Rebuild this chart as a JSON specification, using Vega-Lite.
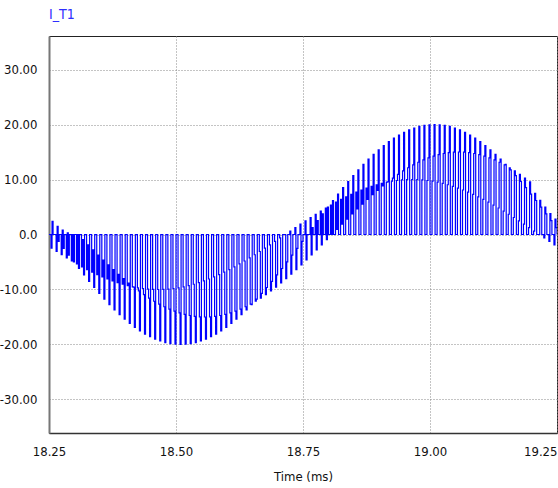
{
  "$schema": "https://vega.github.io/schema/vega-lite/v6.json",
  "width": 508,
  "height": 397,
  "autosize": {"type": "none"},
  "padding": {"left": 49, "top": 36, "right": 1, "bottom": 55},
  "background": "white",
  "title": {"text": "I_T1", "anchor": "start", "frame": "group", "color": "#2e2eff", "font": "Liberation Sans Narrow, DejaVu Sans Condensed, sans-serif", "fontSize": 14, "fontWeight": "normal", "offset": 14},
  "config": {
    "view": {"stroke": "#222", "strokeWidth": 1},
    "axis": {"labelFont": "Liberation Sans Narrow, DejaVu Sans Condensed, sans-serif", "titleFont": "Liberation Sans Narrow, DejaVu Sans Condensed, sans-serif", "labelFontSize": 13, "titleFontSize": 13, "titleFontWeight": "normal", "labelColor": "#111", "titleColor": "#111", "ticks": false, "tickSize": 0, "gridColor": "#888", "gridDash": [1, 2], "gridWidth": 1}
  },
  "data": {
    "values": "t,i\n18.250,0\n18.254,-2.49\n18.256,2.4\n18.258,0\n18.260,0\n18.264,-3.09\n18.266,1.5\n18.268,-1.26\n18.270,0\n18.274,-3.68\n18.276,0.8\n18.278,-2.51\n18.280,0\n18.284,-4.26\n18.286,0.3\n18.288,-3.75\n18.290,0\n18.294,-4.82\n18.296,0\n18.298,-4.97\n18.300,0\n18.304,-5.36\n18.306,0\n18.308,-6.18\n18.310,0\n18.314,-5.88\n18.316,-0.94\n18.318,-7.36\n18.320,0\n18.324,-6.37\n18.326,-1.88\n18.328,-8.52\n18.330,0\n18.334,-6.85\n18.336,-2.81\n18.338,-9.64\n18.340,0\n18.344,-7.29\n18.346,-3.73\n18.348,-10.72\n18.350,0\n18.354,-7.71\n18.356,-4.64\n18.358,-11.76\n18.360,0\n18.364,-8.09\n18.366,-5.52\n18.368,-12.75\n18.370,0\n18.374,-8.44\n18.376,-6.39\n18.378,-13.69\n18.380,0\n18.384,-8.76\n18.386,-7.23\n18.388,-14.58\n18.390,0\n18.394,-9.05\n18.396,-8.04\n18.398,-15.41\n18.400,0\n18.404,-9.30\n18.406,-8.82\n18.408,-16.18\n18.410,0\n18.414,-9.51\n18.416,-9.56\n18.418,-16.89\n18.420,0\n18.424,-9.69\n18.426,-10.27\n18.428,-17.53\n18.430,0\n18.434,-9.82\n18.436,-10.94\n18.438,-18.10\n18.440,0\n18.444,-9.92\n18.446,-11.56\n18.448,-18.60\n18.450,0\n18.454,-9.98\n18.456,-12.14\n18.458,-19.02\n18.460,0\n18.464,-10.00\n18.466,-12.66\n18.468,-19.37\n18.470,0\n18.474,-9.98\n18.476,-13.14\n18.478,-19.65\n18.480,0\n18.484,-9.92\n18.486,-13.57\n18.488,-19.84\n18.490,0\n18.494,-9.82\n18.496,-13.95\n18.498,-19.96\n18.500,0\n18.504,-9.69\n18.506,-14.27\n18.508,-20.00\n18.510,0\n18.514,-9.51\n18.516,-14.53\n18.518,-19.96\n18.520,0\n18.524,-9.30\n18.526,-14.73\n18.528,-19.84\n18.530,0\n18.534,-9.05\n18.536,-14.88\n18.538,-19.65\n18.540,0\n18.544,-8.76\n18.546,-14.97\n18.548,-19.37\n18.550,0\n18.554,-8.44\n18.556,-15.00\n18.558,-19.02\n18.560,0\n18.564,-8.09\n18.566,-14.97\n18.568,-18.60\n18.570,0\n18.574,-7.71\n18.576,-14.88\n18.578,-18.10\n18.580,0\n18.584,-7.29\n18.586,-14.73\n18.588,-17.53\n18.590,0\n18.594,-6.85\n18.596,-14.53\n18.598,-16.89\n18.600,0\n18.604,-6.37\n18.606,-14.27\n18.608,-16.18\n18.610,0\n18.614,-5.88\n18.616,-13.95\n18.618,-15.41\n18.620,0\n18.624,-5.36\n18.626,-13.57\n18.628,-14.58\n18.630,0\n18.634,-4.82\n18.636,-13.14\n18.638,-13.69\n18.640,0\n18.644,-4.26\n18.646,-12.66\n18.648,-12.75\n18.650,0\n18.654,-3.68\n18.656,-12.14\n18.658,-11.76\n18.660,0\n18.664,-3.09\n18.666,-11.56\n18.668,-10.72\n18.670,0\n18.674,-2.49\n18.676,-10.94\n18.678,-9.64\n18.680,0\n18.684,-1.87\n18.686,-10.27\n18.688,-8.52\n18.690,0\n18.694,-1.25\n18.696,-9.56\n18.698,-7.36\n18.700,0\n18.704,-0.63\n18.706,-8.82\n18.708,-6.18\n18.710,0\n18.714,0\n18.716,-8.04\n18.718,-4.97\n18.720,0\n18.724,0.63\n18.726,-7.23\n18.728,-3.75\n18.730,0\n18.734,1.25\n18.736,-6.39\n18.738,-2.51\n18.740,0\n18.744,1.87\n18.746,-5.52\n18.748,-1.26\n18.750,0\n18.754,2.49\n18.756,-4.64\n18.758,0\n18.760,0\n18.764,3.09\n18.766,-3.73\n18.768,1.26\n18.770,0\n18.774,3.68\n18.776,-2.81\n18.778,2.51\n18.780,0\n18.784,4.26\n18.786,-1.88\n18.788,3.75\n18.790,0\n18.794,4.82\n18.796,-0.94\n18.798,4.97\n18.800,0\n18.804,5.36\n18.806,0\n18.808,6.18\n18.810,0\n18.814,5.88\n18.816,0.94\n18.818,7.36\n18.820,0\n18.824,6.37\n18.826,1.88\n18.828,8.52\n18.830,0\n18.834,6.85\n18.836,2.81\n18.838,9.64\n18.840,0\n18.844,7.29\n18.846,3.73\n18.848,10.72\n18.850,0\n18.854,7.71\n18.856,4.64\n18.858,11.76\n18.860,0\n18.864,8.09\n18.866,5.52\n18.868,12.75\n18.870,0\n18.874,8.44\n18.876,6.39\n18.878,13.69\n18.880,0\n18.884,8.76\n18.886,7.23\n18.888,14.58\n18.890,0\n18.894,9.05\n18.896,8.04\n18.898,15.41\n18.900,0\n18.904,9.30\n18.906,8.82\n18.908,16.18\n18.910,0\n18.914,9.51\n18.916,9.56\n18.918,16.89\n18.920,0\n18.924,9.69\n18.926,10.27\n18.928,17.53\n18.930,0\n18.934,9.82\n18.936,10.94\n18.938,18.10\n18.940,0\n18.944,9.92\n18.946,11.56\n18.948,18.60\n18.950,0\n18.954,9.98\n18.956,12.14\n18.958,19.02\n18.960,0\n18.964,10.00\n18.966,12.66\n18.968,19.37\n18.970,0\n18.974,9.98\n18.976,13.14\n18.978,19.65\n18.980,0\n18.984,9.92\n18.986,13.57\n18.988,19.84\n18.990,0\n18.994,9.82\n18.996,13.95\n18.998,19.96\n19.000,0\n19.004,9.69\n19.006,14.27\n19.008,20.00\n19.010,0\n19.014,9.51\n19.016,14.53\n19.018,19.96\n19.020,0\n19.024,9.30\n19.026,14.73\n19.028,19.84\n19.030,0\n19.034,9.05\n19.036,14.88\n19.038,19.65\n19.040,0\n19.044,8.76\n19.046,14.97\n19.048,19.37\n19.050,0\n19.054,8.44\n19.056,15.00\n19.058,19.02\n19.060,0\n19.064,8.09\n19.066,14.97\n19.068,18.60\n19.070,0\n19.074,7.71\n19.076,14.88\n19.078,18.10\n19.080,0\n19.084,7.29\n19.086,14.73\n19.088,17.53\n19.090,0\n19.094,6.85\n19.096,14.53\n19.098,16.89\n19.100,0\n19.104,6.37\n19.106,14.27\n19.108,16.18\n19.110,0\n19.114,5.88\n19.116,13.95\n19.118,15.41\n19.120,0\n19.124,5.36\n19.126,13.57\n19.128,14.58\n19.130,0\n19.134,4.82\n19.136,13.14\n19.138,13.69\n19.140,0\n19.144,4.26\n19.146,12.66\n19.148,12.75\n19.150,0\n19.154,3.68\n19.156,12.14\n19.158,11.76\n19.160,0\n19.164,3.09\n19.166,11.56\n19.168,10.72\n19.170,0\n19.174,2.49\n19.176,10.94\n19.178,9.64\n19.180,0\n19.184,1.87\n19.186,10.27\n19.188,8.52\n19.190,0\n19.194,1.25\n19.196,9.56\n19.198,7.36\n19.200,0\n19.204,0.63\n19.206,7.5\n19.208,6.18\n19.210,0\n19.214,0\n19.216,6.2\n19.218,4.97\n19.220,0\n19.224,-0.63\n19.226,5.0\n19.228,3.75\n19.230,0\n19.234,-1.25\n19.236,3.8\n19.238,2.51\n19.240,0\n19.244,-1.87\n19.246,2.8\n19.248,1.26\n19.250,0",
    "format": {"type": "csv", "parse": {"t": "number", "i": "number"}}
  },
  "mark": {"type": "line", "interpolate": "step-after", "color": "#0000ff", "strokeWidth": 1.2, "clip": true},
  "encoding": {
    "x": {
      "field": "t", "type": "quantitative",
      "scale": {"domain": [18.25, 19.25], "nice": false, "zero": false},
      "axis": {
        "values": [18.25, 18.5, 18.75, 19, 19.25],
        "format": ".2f",
        "title": "Time (ms)",
        "grid": true,
        "domainColor": "#333",
        "domainWidth": 1.5,
        "labelPadding": 12,
        "titlePadding": 12,
        "labelFlush": false,
        "labelAlign": {"condition": {"test": "datum.value >= 19.249", "value": "right"}, "value": "center"}
      }
    },
    "y": {
      "field": "i", "type": "quantitative",
      "scale": {"domain": [-36.1, 36.1], "nice": false, "zero": false},
      "axis": {
        "values": [-30, -20, -10, 0, 10, 20, 30],
        "title": null,
        "grid": true,
        "domainColor": "#777",
        "domainWidth": 2,
        "labelPadding": 12,
        "labelExpr": "datum.value == 0 ? '0.0' : (datum.value < 0 ? '-' + format(-datum.value, '.2f') : format(datum.value, '.2f'))"
      }
    }
  }
}
